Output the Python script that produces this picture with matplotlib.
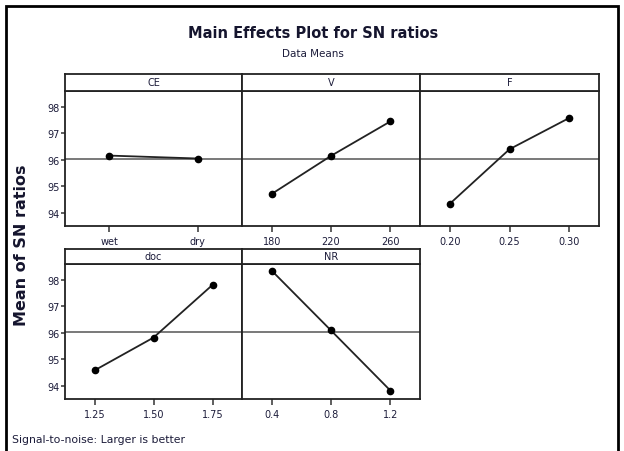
import matplotlib
matplotlib.use('Agg')
import matplotlib.pyplot as plt
from matplotlib.patches import Rectangle

# factor levels and mean SN ratios
factors = ['CE', 'V', 'F', 'doc', 'NR']
levels = {
    'CE': ['wet', 'dry'],
    'V': ['180', '220', '260'],
    'F': ['0.20', '0.25', '0.30'],
    'doc': ['1.25', '1.50', '1.75'],
    'NR': ['0.4', '0.8', '1.2'],
}
sn_means = {
    'CE': [96.16, 96.05],
    'V': [94.71, 96.15, 97.45],
    'F': [94.34, 96.40, 97.58],
    'doc': [94.58, 95.82, 97.81],
    'NR': [98.35, 96.09, 93.82],
}
grand_mean = 96.04
y_ticks = [94, 95, 96, 97, 98]

W, H = 624, 452
fig = plt.figure(figsize=(W / 100, H / 100), dpi=100)
fam = ['DejaVu Sans']
txt_col = '#1c1c3a'

def box(x0, y0, x1, y1):
    # pixel box (top-left origin) -> figure fraction
    return [x0 / W, 1 - y1 / H, (x1 - x0) / W, (y1 - y0) / H]

# outer frame of the screenshot
fig.patches.append(Rectangle((6 / W, -0.01), (612 / W), 1 - 7 / H + 0.01,
                             transform=fig.transFigure, fill=False,
                             edgecolor='black', linewidth=2.0))

cols = [(65, 242), (242, 420), (420, 599)]
rows = [(75, 92, 227), (250, 265, 400)]  # strip top, plot top, plot bottom

for i, f in enumerate(factors):
    r, c = divmod(i, 3)
    x0, x1 = cols[c]
    st, pt, pb = rows[r]
    ax = fig.add_axes(box(x0, pt, x1, pb))
    n = len(levels[f])
    xs = list(range(1, n + 1))
    ax.axhline(grand_mean, color='#555555', lw=1.1, zorder=1)
    ax.plot(xs, sn_means[f], color='#222222', lw=1.3, marker='o',
            markersize=4.5, markerfacecolor='black', markeredgecolor='black', zorder=3)
    ax.set_xlim(0.5, n + 0.5)
    ax.set_ylim(93.5, 98.6)
    ax.set_xticks(xs)
    ax.set_xticklabels(levels[f], family=fam, fontsize=7, color=txt_col)
    ax.tick_params(axis='x', length=4, width=1.1, pad=3, color='#333333')
    if c == 0:
        ax.set_yticks(y_ticks)
        ax.set_yticklabels([str(t) for t in y_ticks], family=fam, fontsize=7, color=txt_col)
        ax.tick_params(axis='y', length=3, width=1.1, pad=1, color='#333333')
    else:
        ax.set_yticks([])
    for s in ax.spines.values():
        s.set_linewidth(1.3)
        s.set_color('#222222')

    sax = fig.add_axes(box(x0, st, x1, pt))
    sax.set_xticks([])
    sax.set_yticks([])
    for s in sax.spines.values():
        s.set_linewidth(1.3)
        s.set_color('#222222')
    sax.text(0.5, 0.5, f, ha='center', va='center', family=fam,
             fontsize=7, color=txt_col, transform=sax.transAxes)

fig.text(313 / W, 1 - 34 / H, 'Main Effects Plot for SN ratios', ha='center', va='center',
         family=fam, fontsize=10.5, fontweight='bold', color='#15152e')
fig.text(313 / W, 1 - 54 / H, 'Data Means', ha='center', va='center',
         family=fam, fontsize=7.5, color=txt_col)
fig.text(22 / W, 1 - 245 / H, 'Mean of SN ratios', ha='center', va='center', rotation=90,
         family=fam, fontsize=11.5, fontweight='bold', color='#15152e')
fig.text(12 / W, 1 - 440 / H, 'Signal-to-noise: Larger is better', ha='left', va='center',
         family=fam, fontsize=7.8, color=txt_col)

fig.savefig('out.png', dpi=100)
